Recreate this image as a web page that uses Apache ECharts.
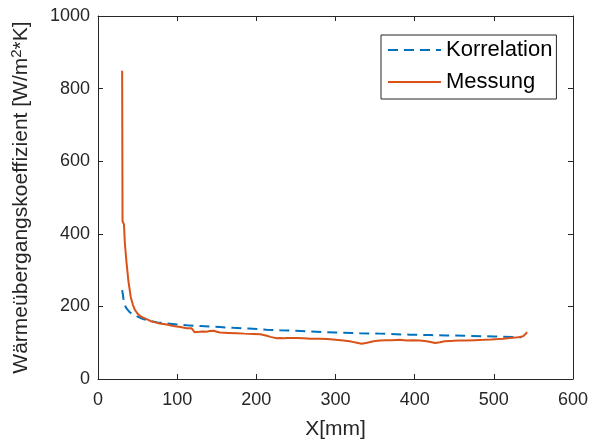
<!DOCTYPE html>
<html><head><meta charset="utf-8">
<script src="https://cdn.jsdelivr.net/npm/echarts@6/dist/echarts.min.js"></script>
<style>html,body{margin:0;padding:0;background:#fff}#c{width:600px;height:445px}</style>
</head><body><div id="c"></div>
<script>
const seriesNames = ['Korrelation', 'Messung'];
const xTicks = [0, 100, 200, 300, 400, 500, 600];
const yTicks = [0, 200, 400, 600, 800, 1000];
const korrX = [30.5,31.5,32.8,35,37,40,45,50,57,65,75,87,100,112,129,154,171,190,213,230,247,268,300,331,356,394,420,440,466,500,525,535];
const korrY = [245,232,210,198,192,184,177,172,165,160,156,153,150,148,146,143,141,139,136,134,133,131,128,126,125,122,121,120,119,117,116,115];
const messX = [30.5,31,32.8,34,36.2,38.3,41.3,44,46.7,50,53,57,61.5,66,72,78,87,95,104,112,118,120,122,128,133,137,141,143,146,150,154,165,175,185,196,205,212,218,222,226,230,234,236,240,250,260,268,280,290,300,310,320,327,333,340,348,356,364,372,381,390,398,407,415,420,426,432,438,445,455,465,476,487,497,505,512,520,527,533,537,540,542];
const messY = [849,435,426,372,317,272,226,205,190,180,174,169,165,160,156,153,150,146,143,140,140,136,129,130,131,130,132,129,133,130,128,127,126,125,124,123,120,116,114,112,113,112,114,113,113,112,111,111,110,108,106,103,100,97,100,104,106,107,107,108,106,107,106,104,102,99,101,104,105,106,106,107,108,109,110,111,113,114,116,118,124,129];

const pair = (xs, ys) => xs.map((x, i) => [x, ys[i]]);
const txt = '#262626';
const font = '"Liberation Sans", Arial, sans-serif';
const mkLine = () => ({show: true, onZero: false, lineStyle: {color: txt, width: 1}});
const mkTick = () => ({show: true, inside: true, length: 5, lineStyle: {color: txt}});

const chart = echarts.init(document.getElementById('c'), null, {renderer: 'canvas'});
chart.setOption({
  animation: false,
  backgroundColor: '#fff',
  textStyle: {fontFamily: font},
  grid: {left: 98, right: 27, top: 16, bottom: 62, containLabel: false},
  legend: {
    data: seriesNames,
    orient: 'vertical',
    left: 381, top: 35,
    backgroundColor: '#fff',
    borderColor: txt, borderWidth: 1, borderRadius: 0,
    padding: [4, 4, 6, 6],
    itemWidth: 53, itemHeight: 22, itemGap: 10,
    itemStyle: {opacity: 0},
    textStyle: {fontSize: 22, color: '#000', fontFamily: font, lineHeight: 22}
  },
  xAxis: [{
    type: 'value', min: 0, max: 600, interval: 100, position: 'bottom',
    name: 'X[mm]', nameLocation: 'middle', nameGap: 40,
    nameTextStyle: {fontSize: 21, color: txt, fontFamily: font},
    axisLine: mkLine(), axisTick: mkTick(),
    axisLabel: {fontSize: 18, color: txt, margin: 12, fontFamily: font,
      formatter: v => xTicks.includes(v) ? String(v) : ''},
    splitLine: {show: false}
  }, {
    type: 'value', min: 0, max: 600, interval: 100, position: 'top',
    axisLine: mkLine(), axisTick: mkTick(), axisLabel: {show: false}, splitLine: {show: false}
  }],
  yAxis: [{
    type: 'value', min: 0, max: 1000, interval: 200, position: 'left',
    name: 'Wärmeübergangskoeffizient [W/m{sup|2}*K]', nameLocation: 'middle', nameGap: 65, nameRotate: 90,
    nameTextStyle: {fontSize: 21, color: txt, fontFamily: font,
      rich: {sup: {fontSize: 15, color: txt, fontFamily: font, verticalAlign: 'bottom', padding: [0,0,9,0]}}},
    axisLine: mkLine(), axisTick: mkTick(),
    axisLabel: {fontSize: 18, color: txt, margin: 8, fontFamily: font,
      formatter: v => yTicks.includes(v) ? String(v) : ''},
    splitLine: {show: false}
  }, {
    type: 'value', min: 0, max: 1000, interval: 200, position: 'right',
    axisLine: mkLine(), axisTick: mkTick(), axisLabel: {show: false}, splitLine: {show: false}
  }],
  series: [{
    name: seriesNames[0], type: 'line', data: pair(korrX, korrY),
    showSymbol: false, symbol: 'none', smooth: false,
    lineStyle: {color: '#0072BD', width: 2, type: [10, 6]},
    itemStyle: {color: '#0072BD'}
  }, {
    name: seriesNames[1], type: 'line', data: pair(messX, messY),
    showSymbol: false, symbol: 'none', smooth: false,
    lineStyle: {color: '#D95319', width: 2},
    itemStyle: {color: '#D95319'}
  }]
});
</script></body></html>
